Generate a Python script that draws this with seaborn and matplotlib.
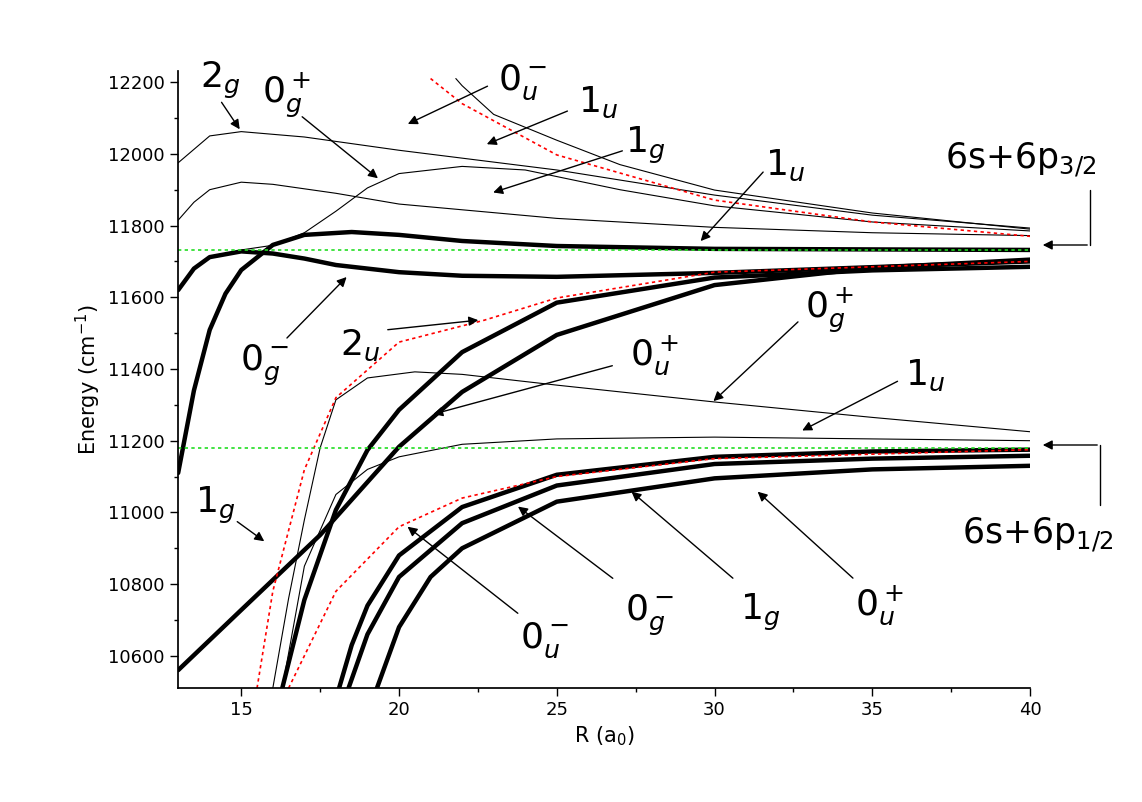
import numpy as np
import pandas as pd
import matplotlib
matplotlib.use("Agg")
import matplotlib.pyplot as plt
import seaborn as sns
from matplotlib.ticker import MultipleLocator

sns.set_theme(style="ticks")
plt.rcParams.update({'font.family': 'DejaVu Sans', 'mathtext.fontset': 'dejavusans',
                     'text.color': 'black', 'axes.labelcolor': 'black',
                     'xtick.color': 'black', 'ytick.color': 'black', 'axes.edgecolor': 'black'})

# thick curves (R, E)
thick_a_r = [13, 13.5, 14, 14.5, 15, 16, 17, 18.5, 20, 22, 25, 30, 40]
thick_a_e = [11110, 11340, 11509, 11610, 11676, 11746, 11774, 11782, 11774, 11757, 11743, 11735, 11732]
thick_b_r = [13, 13.5, 14, 15, 16, 17, 18, 20, 22, 25, 30, 35, 40]
thick_b_e = [11620, 11680, 11712, 11728, 11722, 11708, 11690, 11670, 11660, 11657, 11668, 11684, 11700]
thick_1g_r = [13, 15, 17.5, 20, 22, 25, 30, 35, 40]
thick_1g_e = [10560, 10728, 10937, 11183, 11336, 11495, 11634, 11682, 11705]
thick_0u_r = [16.3, 17, 18, 19, 20, 22, 25, 30, 35, 40]
thick_0u_e = [10510, 10756, 11007, 11174, 11286, 11447, 11585, 11655, 11675, 11685]
low_a_r = [18.1, 18.5, 19, 20, 22, 25, 30, 35, 40]
low_a_e = [10510, 10630, 10740, 10880, 11015, 11105, 11155, 11170, 11175]
low_b_r = [18.4, 19, 20, 22, 25, 30, 35, 40]
low_b_e = [10510, 10660, 10820, 10970, 11075, 11135, 11150, 11158]
low_c_r = [19.3, 20, 21, 22, 25, 30, 35, 40]
low_c_e = [10510, 10680, 10820, 10900, 11030, 11095, 11120, 11130]

# thin curves
thin_2g_r = [13, 14, 15, 17, 20, 25, 30, 35, 40]
thin_2g_e = [11975, 12050, 12062, 12047, 12010, 11955, 11885, 11829, 11793]
thin_b_r = [13, 13.5, 14, 15, 16, 18, 20, 25, 30, 35, 40]
thin_b_e = [11815, 11865, 11900, 11921, 11915, 11890, 11860, 11820, 11795, 11780, 11772]
thin_0u_r = [21.8, 22, 23, 25, 27, 30, 35, 40]
thin_0u_e = [12210, 12190, 12110, 12038, 11970, 11899, 11835, 11790]
thin_c_r = [15, 16, 17, 18, 19, 20, 22, 24, 27, 30, 35, 40]
thin_c_e = [11732, 11745, 11780, 11840, 11905, 11945, 11965, 11955, 11900, 11855, 11810, 11785]
thin_d_r = [16, 16.5, 17, 17.5, 18, 19, 20.5, 22, 25, 30, 35, 40]
thin_d_e = [10510, 10760, 10979, 11180, 11314, 11375, 11392, 11385, 11355, 11308, 11265, 11225]
thin_e_r = [16.3, 17, 18, 19, 20, 22, 25, 30, 40]
thin_e_e = [10510, 10850, 11050, 11120, 11155, 11190, 11205, 11210, 11200]

# red dotted curves
red_a_r = [21, 22, 25, 30, 35, 40]
red_a_e = [12210, 12140, 11997, 11871, 11810, 11770]
red_b_r = [15.5, 16, 17, 18, 20, 22.7, 25, 30, 40]
red_b_e = [10510, 10780, 11119, 11320, 11475, 11536, 11598, 11670, 11700]
red_c_r = [16.5, 17, 18, 20, 22, 25, 30, 40]
red_c_e = [10510, 10600, 10780, 10960, 11040, 11100, 11150, 11175]

asymptotes = [11733, 11180]

fig = plt.figure(figsize=(11.42, 8.02), dpi=100)
ax = fig.add_axes([0.156, 0.142, 0.746, 0.769])

for r, e in [(thick_a_r, thick_a_e), (thick_b_r, thick_b_e), (thick_1g_r, thick_1g_e),
             (thick_0u_r, thick_0u_e), (low_a_r, low_a_e), (low_b_r, low_b_e), (low_c_r, low_c_e)]:
    sns.lineplot(x=r, y=e, ax=ax, color='black', lw=3.2, sort=False)
for r, e in [(thin_2g_r, thin_2g_e), (thin_b_r, thin_b_e), (thin_0u_r, thin_0u_e),
             (thin_c_r, thin_c_e), (thin_d_r, thin_d_e), (thin_e_r, thin_e_e)]:
    sns.lineplot(x=r, y=e, ax=ax, color='black', lw=0.8, sort=False)
for r, e in [(red_a_r, red_a_e), (red_b_r, red_b_e), (red_c_r, red_c_e)]:
    sns.lineplot(x=r, y=e, ax=ax, color='red', lw=1.2, linestyle=(0, (2, 2)), sort=False)
for a in asymptotes:
    ax.axhline(a, color='#22dd22', lw=1.2, linestyle=(0, (2, 2)))

ax.set_xlim(13, 40)
ax.set_ylim(10510, 12230)
ax.xaxis.set_major_locator(MultipleLocator(5))
ax.xaxis.set_minor_locator(MultipleLocator(2.5))
ax.yaxis.set_major_locator(MultipleLocator(200))
ax.yaxis.set_minor_locator(MultipleLocator(100))
ax.tick_params(which='major', length=6, width=1, labelsize=13)
ax.tick_params(which='minor', length=3, width=1)
sns.despine(ax=ax)
ax.set_xlabel('R (a$_0$)', fontsize=15)
ax.set_ylabel('Energy (cm$^{-1}$)', fontsize=15)

H = 802
labels = [
    ('$2_g$', (200, 80), (220, 100), (15, 12062)),
    ('$0_g^+$', (262, 95), (300, 115), (19.4, 11927)),
    ('$0_u^-$', (498, 82), (490, 85), (20.2, 12080)),
    ('$1_u$', (578, 102), (570, 110), (22.7, 12024)),
    ('$1_g$', (625, 145), (625, 150), (22.9, 11890)),
    ('$1_u$', (765, 165), (765, 170), (29.5, 11751)),
    ('$0_g^-$', (240, 365), (285, 340), (18.4, 11662)),
    ('$2_u$', (340, 345), (385, 330), (22.6, 11537)),
    ('$0_u^+$', (630, 355), (615, 365), (21, 11272)),
    ('$0_g^+$', (805, 310), (800, 320), (29.9, 11305)),
    ('$1_u$', (905, 375), (900, 380), (32.7, 11225)),
    ('$1_g$', (195, 505), (235, 520), (15.8, 10915)),
    ('$0_u^-$', (520, 640), (520, 615), (20.2, 10965)),
    ('$0_g^-$', (625, 615), (615, 580), (23.7, 11021)),
    ('$1_g$', (740, 612), (735, 580), (27.3, 11063)),
    ('$0_u^+$', (855, 605), (855, 580), (31.3, 11063)),
]
for txt, tpos, start, tip in labels:
    ax.annotate('', xy=tip, xycoords='data', xytext=(start[0], H - start[1]),
                textcoords='figure pixels',
                arrowprops=dict(arrowstyle='-|>', color='black', lw=1, mutation_scale=14))
    fig.text(tpos[0] / 1142, 1 - tpos[1] / H, txt, fontsize=26, ha='left', va='center')

fig.text(945 / 1142, 1 - 160 / H, '6s+6p$_{3/2}$', fontsize=25, va='center')
fig.text(962 / 1142, 1 - 535 / H, '6s+6p$_{1/2}$', fontsize=25, va='center')
fig.add_artist(plt.Line2D([1090 / 1142, 1090 / 1142], [1 - 190 / H, 1 - 245 / H], color='black', lw=1))
fig.add_artist(plt.Line2D([1100 / 1142, 1100 / 1142], [1 - 505 / H, 1 - 445 / H], color='black', lw=1))
ax.annotate('', xy=(1040, H - 245), xycoords='figure pixels', xytext=(1090, H - 245),
            textcoords='figure pixels', arrowprops=dict(arrowstyle='-|>', color='black', lw=1, mutation_scale=14))
ax.annotate('', xy=(1040, H - 445), xycoords='figure pixels', xytext=(1100, H - 445),
            textcoords='figure pixels', arrowprops=dict(arrowstyle='-|>', color='black', lw=1, mutation_scale=14))

fig.savefig('out.png', dpi=100)
